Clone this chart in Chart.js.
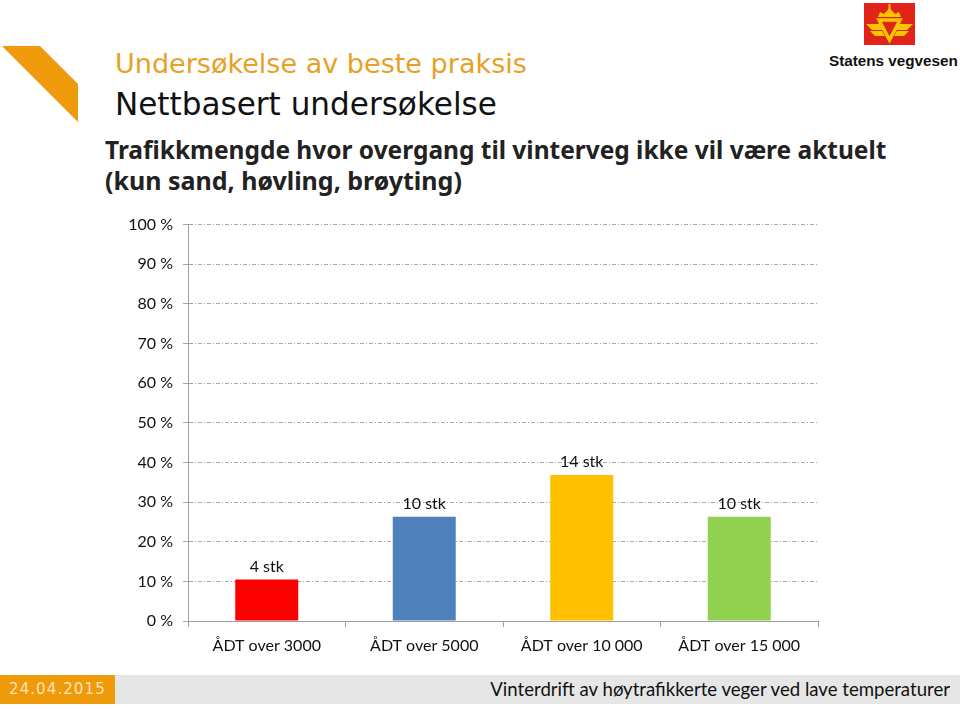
<!DOCTYPE html>
<html>
<head>
<meta charset="utf-8">
<script src="https://cdn.jsdelivr.net/npm/chart.js@4.4.1/dist/chart.umd.min.js"></script>
<style>
  html, body { margin:0; padding:0; background:#fff; }
  body { width:960px; height:709px; position:relative; overflow:hidden; font-family:"DejaVu Sans", sans-serif; }
  .t { position:absolute; white-space:nowrap; line-height:1; }
  #chartWrap { position:absolute; left:110px; top:205px; width:720px; height:460px; }
</style>
</head>
<body>
<svg style="position:absolute;left:0;top:0" width="960" height="709">
  <polygon points="2,46 40,46 78,84 78,122" fill="#EE9A0A"/>
  <rect x="0" y="675" width="115" height="29" fill="#EE9A0A"/>
  <rect x="115" y="675" width="845" height="29" fill="#E6E6E6"/>
  <!-- logo -->
  <rect x="864" y="3" width="51" height="42" fill="#E2231A"/>
  <path d="M878,17 L901,17 L899,12 L895,14 L889.5,8 L884,14 L880,12 Z" fill="#F7C600"/>
  <rect x="888.5" y="4" width="2" height="5" fill="#F7C600"/>
  <path d="M879,20 L900,20 L889.5,40 Z" fill="none" stroke="#F7C600" stroke-width="3.5"/>
  <path d="M866,24 L880,24 L884,30 L872,30 Z" fill="#F7C600"/>
  <path d="M913,24 L899,24 L895,30 L907,30 Z" fill="#F7C600"/>
  <path d="M870,31 L882,31 L885,36 L875,36 Z" fill="#F7C600"/>
  <path d="M909,31 L897,31 L894,36 L904,36 Z" fill="#F7C600"/>
</svg>
<div class="t fit" data-w="412" style="left:115px;top:50px;font-size:26px;color:#E8A027;font-family:'DejaVu Sans',sans-serif;">Undersøkelse av beste praksis</div>
<div class="t fit" data-w="382" style="left:115px;top:89px;font-size:29px;color:#111;font-family:'DejaVu Sans',sans-serif;">Nettbasert undersøkelse</div>
<div class="t fit" data-w="782" style="left:105px;top:138px;font-size:22px;font-weight:bold;color:#222;font-family:'Noto Sans',sans-serif;">Trafikkmengde hvor overgang til vinterveg ikke vil være aktuelt</div>
<div class="t fit" data-w="357" style="left:105px;top:168px;font-size:22px;font-weight:bold;color:#222;font-family:'Noto Sans',sans-serif;">(kun sand, høvling, brøyting)</div>
<div class="t fit" data-w="129" style="left:829px;top:53px;font-size:15px;font-weight:bold;color:#111;font-family:'Liberation Sans',sans-serif;">Statens vegvesen</div>
<div class="t fit" data-w="97" style="left:9px;top:682px;font-size:15px;color:#FBE3B5;font-family:'DejaVu Sans',sans-serif;letter-spacing:1px;">24.04.2015</div>
<div class="t" id="foot" style="right:10px;top:680px;font-size:17px;color:#111;font-family:'Lato',sans-serif;">Vinterdrift av høytrafikkerte veger ved lave temperaturer</div>
<div id="chartWrap"><canvas id="c"></canvas></div>
<script>
const categories = ['ÅDT over 3000', 'ÅDT over 5000', 'ÅDT over 10 000', 'ÅDT over 15 000'];
const counts = [4, 10, 14, 10];
const percentValues = [10.5, 26.3, 36.8, 26.3];
const barColors = ['#FF0000', '#4F81BD', '#FFC000', '#92D050'];
const yTicks = [0, 10, 20, 30, 40, 50, 60, 70, 80, 90, 100];

// fit header texts to measured widths
document.querySelectorAll('.fit').forEach(el => {
  const target = +el.dataset.w;
  const fs = parseFloat(el.style.fontSize);
  const w = el.getBoundingClientRect().width;
  el.style.fontSize = (fs * target / w) + 'px';
});
(function(){
  const el = document.getElementById('foot');
  const w = el.getBoundingClientRect().width;
  el.style.fontSize = (17 * 460 / w) + 'px';
})();

const barLabelPlugin = {
  id: 'barLabels',
  afterDatasetsDraw(chart) {
    const ctx = chart.ctx;
    const meta = chart.getDatasetMeta(0);
    ctx.save();
    ctx.font = '16px Lato';
    ctx.fillStyle = '#111';
    ctx.textAlign = 'center';
    ctx.textBaseline = 'bottom';
    meta.data.forEach((bar, i) => {
      ctx.fillText(counts[i] + ' stk', bar.x, bar.y - 5);
    });
    ctx.restore();
  }
};

new Chart(document.getElementById('c'), {
  type: 'bar',
  data: {
    labels: categories,
    datasets: [{
      data: percentValues,
      backgroundColor: barColors,
      borderWidth: 0,
      barPercentage: 0.4,
      categoryPercentage: 1.0
    }]
  },
  options: {
    responsive: true,
    maintainAspectRatio: false,
    animation: false,
    layout: { padding: { top: 16, right: 12, left: 0, bottom: 0 } },
    plugins: { legend: { display: false }, tooltip: { enabled: false } },
    scales: {
      x: {
        afterFit: s => { s.height = 44; },
        grid: { drawOnChartArea: false, tickLength: 6, color: '#A0A0A0', offset: true },
        border: { color: '#A0A0A0', width: 1 },
        ticks: { color: '#111', font: { family: 'Lato', size: 16 }, padding: 9 }
      },
      y: {
        min: 0, max: 100,
        afterFit: s => { s.width = 78; },
        afterBuildTicks: s => { s.ticks = yTicks.map(v => ({ value: v })); },
        grid: { color: '#A8A8A8', tickLength: 5, lineWidth: 1 },
        border: { color: '#A0A0A0', width: 1, dash: [4, 2, 1, 2] },
        ticks: { color: '#111', font: { family: 'Lato', size: 16 }, padding: 10, callback: v => v + ' %' }
      }
    }
  },
  plugins: [barLabelPlugin]
});
</script>
</body>
</html>
